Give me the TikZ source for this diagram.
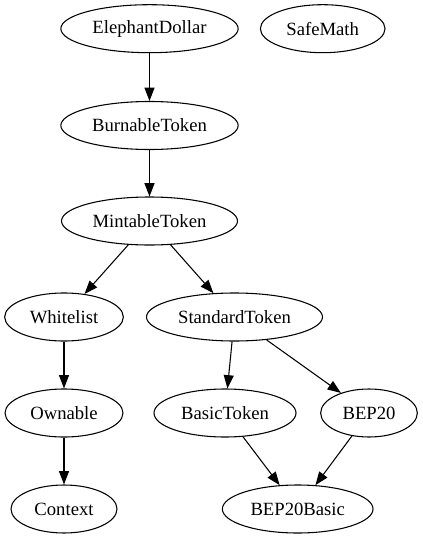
\documentclass[tikz,border=0pt]{standalone}
\usepackage{fontspec}
\setmainfont{Liberation Serif}
\usetikzlibrary{shapes.geometric, arrows.meta}

\begin{document}
\begin{tikzpicture}[x=0.75pt, y=-0.75pt,
		cls/.style={ellipse, draw, line width=0.8pt, minimum height=36pt, inner sep=0pt, font=\fontsize{14}{16}\selectfont},
		dep/.style={line width=0.8pt, -{Triangle[length=10pt, width=7.5pt]}}]
	% Рамка рисунка
	\useasboundingbox (0,0) rectangle (423,539);
	
	% Узлы
	\node[cls, minimum width=133pt] (ED) at (149.5,28.7) {ElephantDollar};
	\node[cls, minimum width=93.5pt] (SM) at (322.7,28.7) {SafeMath};
	\node[cls, minimum width=133pt] (BT) at (149.5,125.5) {BurnableToken};
	\node[cls, minimum width=132pt] (MT) at (149.5,221) {MintableToken};
	\node[cls, minimum width=89pt] (WL) at (64,317) {Whitelist};
	\node[cls, minimum width=132pt] (ST) at (234.5,317) {StandardToken};
	\node[cls, minimum width=88.5pt] (OW) at (64,413) {Ownable};
	\node[cls, minimum width=106.5pt] (BaT) at (225,413) {BasicToken};
	\node[cls, minimum width=72.5pt] (BEP) at (369,413) {BEP20};
	\node[cls, minimum width=79.5pt] (CX) at (64,509) {Context};
	\node[cls, minimum width=113pt] (BB) at (297.7,509) {BEP20Basic};
	
	% Стрелки
	\draw[dep] (ED) -- (BT);
	\draw[dep] (BT) -- (MT);
	\draw[dep] (MT) -- (WL);
	\draw[dep] (MT) -- (ST);
	\draw[dep] (WL) -- (OW);
	\draw[dep] (OW) -- (CX);
	\draw[dep] (ST) -- (BaT);
	\draw[dep] (ST) -- (BEP);
	\draw[dep] (BaT) -- (BB);
	\draw[dep] (BEP) -- (BB);
\end{tikzpicture}
\end{document}
